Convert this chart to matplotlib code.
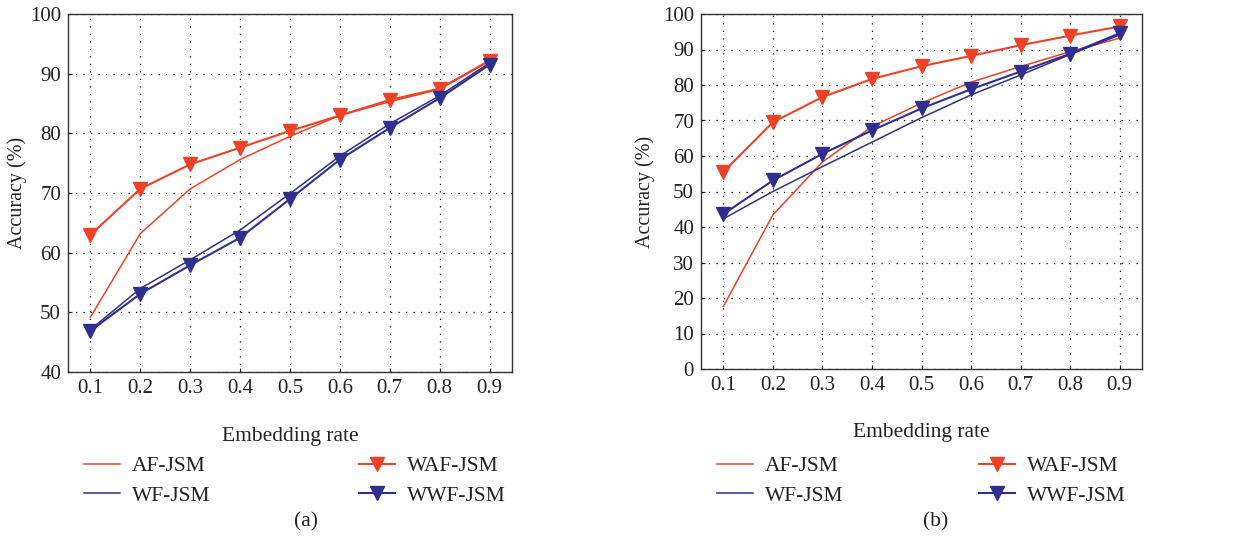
import matplotlib
matplotlib.use("Agg")
import matplotlib.pyplot as plt

plt.rcParams['font.family'] = ['Liberation Serif', 'DejaVu Serif']

rates = [0.1, 0.2, 0.3, 0.4, 0.5, 0.6, 0.7, 0.8, 0.9]
series_names = ["AF-JSM", "WF-JSM", "WAF-JSM", "WWF-JSM"]

# Panel (a)
a_af = [49.2, 63.2, 70.7, 75.6, 79.5, 83.0, 85.3, 87.4, 92.1]
a_wf = [47.1, 54.0, 58.8, 63.8, 69.9, 76.2, 81.6, 86.3, 91.8]
a_waf = [63.0, 70.7, 74.8, 77.6, 80.4, 83.0, 85.6, 87.5, 92.2]
a_wwf = [46.9, 53.1, 57.9, 62.5, 69.0, 75.6, 80.9, 85.9, 91.5]

# Panel (b)
b_af = [17.6, 43.4, 58.3, 68.3, 74.9, 80.8, 85.2, 89.4, 93.2]
b_wf = [42.3, 50.0, 57.0, 63.9, 70.8, 77.2, 82.8, 88.6, 94.1]
b_waf = [55.5, 69.5, 76.6, 81.7, 85.3, 88.2, 91.2, 93.9, 96.5]
b_wwf = [43.6, 53.1, 60.6, 67.2, 73.4, 78.8, 83.8, 88.8, 94.6]

RED = "#EE4226"
BLUE = "#2F2F8E"
FS = 15.5

fig = plt.figure(figsize=(12.48, 5.48), dpi=100)
W, H = 1248, 548

def add_ax(l, r, t, b):
    return fig.add_axes([l / W, 1 - b / H, (r - l) / W, (b - t) / H])

ax_a = add_ax(68, 512, 14, 372)
ax_b = add_ax(701, 1142, 14, 369)

def draw(ax, af, wf, waf, wwf, ylim, yticks, xlabel_y, ylabel_x, leg_x, colsp, cap_x, cap):
    h1, = ax.plot(rates, af, color=RED, lw=1.1, label=series_names[0])
    h2, = ax.plot(rates, wf, color=BLUE, lw=1.1, label=series_names[1])
    h3, = ax.plot(rates, waf, color=RED, lw=1.5, marker='v', ms=10.5, label=series_names[2])
    h4, = ax.plot(rates, wwf, color=BLUE, lw=1.5, marker='v', ms=10.5, label=series_names[3])
    ax.set_xlim(0.055, 0.945)
    ax.set_ylim(*ylim)
    ax.set_xticks(rates)
    ax.set_xticklabels([f"{r:.1f}" for r in rates])
    ax.set_yticks(yticks)
    ax.grid(True, color='black', linestyle=(0, (1, 5)), linewidth=0.9)
    ax.tick_params(direction='in', length=3, labelsize=15, pad=5, colors='#222222')
    for s in ax.spines.values():
        s.set_color('#333333')
        s.set_linewidth(1.0)
    ax.set_ylabel("Accuracy (%)", fontsize=14.5, color='#222222')
    ax.set_xlabel("Embedding rate", fontsize=FS, color='#222222')
    pos = ax.get_position()
    ax.xaxis.set_label_coords(0.5, -(pos.y0 - (1 - xlabel_y / H)) / pos.height)
    ax.yaxis.set_label_coords((ylabel_x / W - pos.x0) / pos.width, 0.5)
    fig.legend(handles=[h1, h2, h3, h4], loc='center left',
               bbox_to_anchor=(leg_x / W, 1 - 481 / H), ncol=2, frameon=False,
               fontsize=FS, handlelength=1.65, columnspacing=colsp, labelspacing=0.45,
               handletextpad=0.56, labelcolor='#222222')
    fig.text(cap_x / W, 1 - 522 / H, cap,
             ha='center', va='center', fontsize=FS, color='#222222')

draw(ax_a, a_af, a_wf, a_waf, a_wwf, (40, 100), range(40, 101, 10), 427, 27, 65, 6.9, 306, "(a)")
draw(ax_b, b_af, b_wf, b_waf, b_wwf, (0, 100), range(0, 101, 10), 423, 655, 698, 6.3, 936, "(b)")

fig.savefig("out.png", dpi=100)
